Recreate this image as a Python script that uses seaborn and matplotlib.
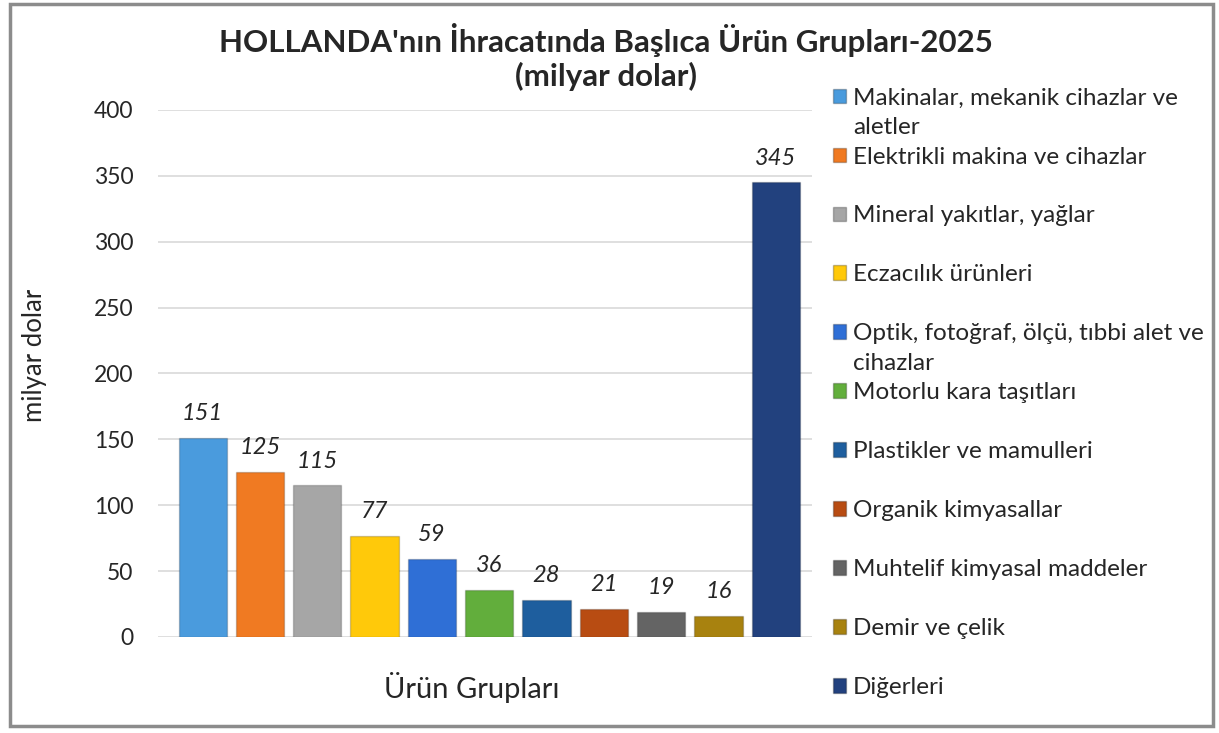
import matplotlib.pyplot as plt
import matplotlib.patches as mpatches
from matplotlib.text import Annotation
import pandas as pd
import seaborn as sns

# chart data
categories = ['Makinalar, mekanik cihazlar ve\naletler', 'Elektrikli makina ve cihazlar',
              'Mineral yakıtlar, yağlar', 'Eczacılık ürünleri',
              'Optik, fotoğraf, ölçü, tıbbi alet ve\ncihazlar', 'Motorlu kara taşıtları',
              'Plastikler ve mamulleri', 'Organik kimyasallar', 'Muhtelif kimyasal maddeler',
              'Demir ve çelik', 'Diğerleri']
values = [151, 125, 115, 77, 59, 36, 28, 21, 19, 16, 345]
colors = ['#4A9BDD', '#F07A22', '#A6A6A6', '#FFC90A', '#2F6FD6', '#62AE3C',
          '#1E5E9E', '#B84C12', '#646464', '#A8820F', '#22417E']
yticks = [0, 50, 100, 150, 200, 250, 300, 350, 400]

df = pd.DataFrame({'group': categories, 'value': values})

sns.set_style('white')
plt.rcParams['font.family'] = ['Lato', 'DejaVu Sans']

fig = plt.figure(figsize=(12.19, 7.33), dpi=100)
ax = fig.add_axes([0.130, 0.131, 0.536, 0.719])

sns.barplot(data=df, x='group', y='value', hue='group', palette=colors,
            dodge=False, width=0.84, ax=ax, legend=False, saturation=1,
            edgecolor='#00000030', linewidth=1)

# data labels
for cont in ax.containers:
    ax.bar_label(cont, fmt='%d', padding=10, fontsize=17, style='italic')

ax.set_ylim(0, 400)
ax.set_yticks(yticks)
ax.set_xlim(-0.77, 10.63)
ax.set_xticks([])
ax.grid(axis='y', color='#D9D9D9', linewidth=1.2)
ax.set_axisbelow(True)
sns.despine(ax=ax, left=True, bottom=True)
ax.tick_params(axis='y', labelsize=16.5, pad=18, length=0)
ax.set_ylabel('milyar dolar', fontsize=18.5)
ax.yaxis.set_label_coords(-0.17, 0.535)
ax.set_xlabel('Ürün Grupları', fontsize=21)
ax.xaxis.set_label_coords(0.48, -0.067)

fig.suptitle("HOLLANDA'nın İhracatında Başlıca Ürün Grupları-2025\n(milyar dolar)",
             x=0.497, y=0.968, fontsize=22.5, fontweight='bold', linespacing=1.2)

# legend: first line of each label, wrapped part added below
handles = [mpatches.Rectangle((0, 0), 1, 1, facecolor=c, edgecolor='#00000040') for c in colors]
first_lines = [c.split('\n')[0] for c in categories]
leg = fig.legend(handles, first_lines, loc='upper left', bbox_to_anchor=(0.673, 0.897),
                 frameon=False, fontsize=17.5, handlelength=0.55, handleheight=0.55,
                 handletextpad=0.3, labelspacing=1.56, borderpad=0)
for txt, cat in zip(leg.get_texts(), categories):
    if '\n' in cat:
        fig.add_artist(Annotation(cat.split('\n')[1], xy=(0, 0), xycoords=txt, xytext=(0, -6),
                                  textcoords='offset points', ha='left', va='top',
                                  fontsize=17.5, zorder=10))

# outer border
fig.patches.append(mpatches.Rectangle((0.008, 0.01), 0.987, 0.985, transform=fig.transFigure,
                                      fill=False, edgecolor='#8C8C8C', linewidth=2.5))

fig.savefig('out.png', dpi=100)
